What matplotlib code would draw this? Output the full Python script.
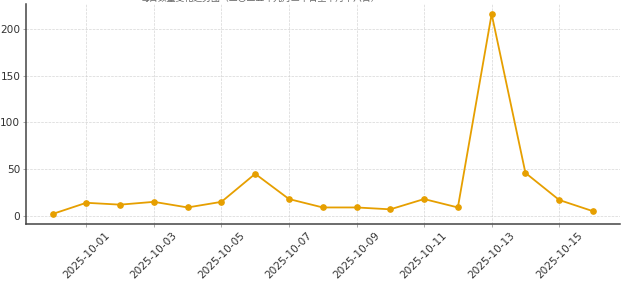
import matplotlib
matplotlib.use("Agg")
from matplotlib import pyplot as plt
import matplotlib.dates as mdates
import numpy as np

# daily counts
dates = np.arange("2025-09-30", "2025-10-17", dtype="datetime64[D]")
counts = [2, 14, 12, 15, 9, 15, 45, 18, 9, 9, 7, 18, 9, 216, 46, 17, 5]
title = "每日数量变化趋势图（二〇二五年九月三十日至十月十六日）"

fig = plt.figure(figsize=(6.26, 2.83), dpi=100)
ax = fig.add_axes([25.5 / 626, 1 - 224 / 283, 594.5 / 626, 220 / 283])

ax.plot(dates.astype("datetime64[ms]").astype(object), counts,
        color="#E69F00", linewidth=1.3, marker="o", markersize=3.8)

# only the bottom of the title shows above the frame
fig.text(260 / 626, 1 - 0.6 / 283, title, ha="center", va="baseline",
         fontsize=6.4, color="#666666",
         family=["Noto Sans CJK SC", "DejaVu Sans"])

ax.xaxis.set_major_locator(mdates.DayLocator(bymonthday=[1, 3, 5, 7, 9, 11, 13, 15]))
ax.xaxis.set_major_formatter(mdates.DateFormatter("%Y-%m-%d"))
ax.set_yticks([0, 50, 100, 150, 200])

ax.grid(True, linestyle="--", linewidth=0.5, color="#cccccc", alpha=0.8)
ax.set_axisbelow(True)
for side in ("top", "right"):
    ax.spines[side].set_visible(False)
for side in ("left", "bottom"):
    ax.spines[side].set_color("#444444")
    ax.spines[side].set_linewidth(1.1)

ax.tick_params(axis="both", colors="#888888", labelcolor="#333333",
               labelsize=7.6, length=2.2, width=0.5, pad=1.5)
ax.tick_params(axis="x", pad=2.5)
for lab in ax.get_xticklabels():
    lab.set_rotation(45)
    lab.set_ha("center")

fig.savefig("out.png", dpi=100)
